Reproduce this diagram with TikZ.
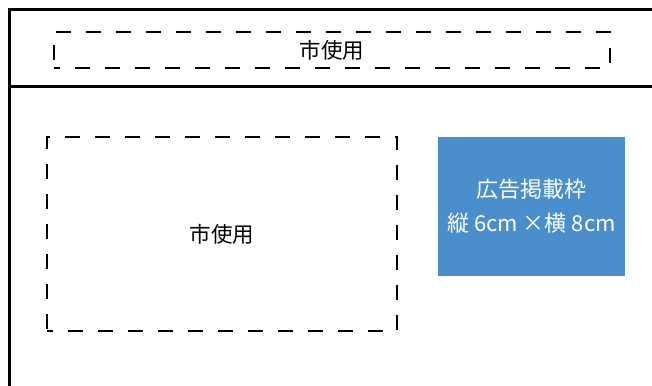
\documentclass[tikz,border=0pt]{standalone}
\usepackage{fontspec}
\newfontfamily\jpfont{Noto Sans CJK JP}
\definecolor{adblue}{HTML}{4A8ECC}
\begin{document}
\begin{tikzpicture}[x=1pt,y=-1pt,
    cityarea/.style={draw,dash pattern=on 15pt off 15pt,dash phase=9pt,line width=1.8pt,inner sep=0pt,font=\jpfont\fontsize{21.5}{24}\selectfont},
    adarea/.style={fill=adblue,text=white,inner sep=0pt,align=center,font=\jpfont\fontsize{22}{34}\selectfont},
    frame/.style={line width=3pt}]
                \useasboundingbox (0,0) rectangle (652,385);
                %NODE
                \node[cityarea,minimum width=556pt,minimum height=36pt] (A) at (332,50){市使用};
                \node[cityarea,minimum width=350pt,minimum height=194pt] (B) at (222,234){市使用};
                \node[adarea,minimum width=187pt,minimum height=139pt] (C) at (531.5,206.5){広告掲載枠\\縦 6cm ×横 8cm};
                \coordinate (P) at (9.5,390);
                \coordinate (Q) at (9.5,10);
                \coordinate (R) at (660,10);
                \coordinate (S) at (9.5,86.5);
                \coordinate (T) at (660,86.5);

                %EDGE
                \draw[frame] (P) -- (Q) -- (R);
                \draw[frame] (S) -- (T);
            \end{tikzpicture}
\end{document}
